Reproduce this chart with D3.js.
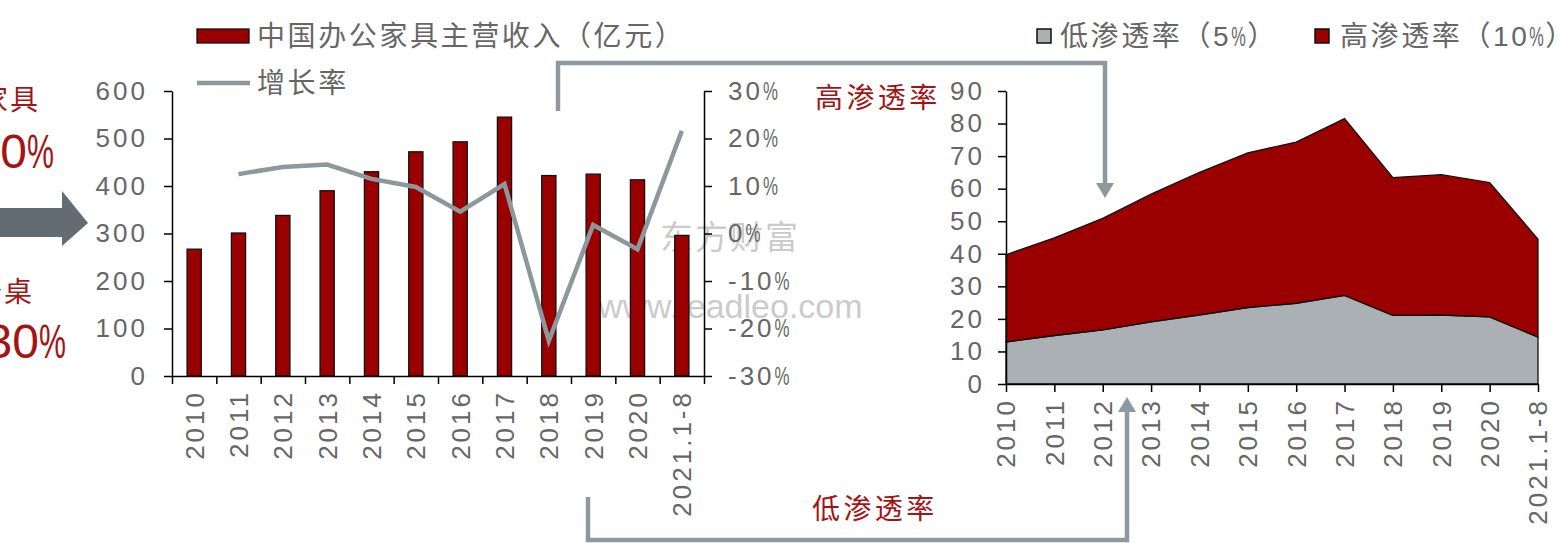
<!DOCTYPE html>
<html>
<head>
<meta charset="utf-8">
<title>办公家具</title>
<script src="https://cdn.jsdelivr.net/npm/d3@7"></script>
<style>
  body { margin: 0; background: #fff; }
  svg { display: block; font-family: "Liberation Sans", "Noto Sans CJK SC", sans-serif; }
  .axis .domain, .axis line { stroke: #000; stroke-width: 1.5; }
  .axis text { fill: #666; font-size: 26px; letter-spacing: 3px; font-family: "Liberation Sans", sans-serif; }
  .lbl { fill: #666; font-size: 28px; letter-spacing: 2.6px; }
</style>
</head>
<body>
<script>
// data
const years = ["2010","2011","2012","2013","2014","2015","2016","2017","2018","2019","2020","2021.1-8"];
const revenue = [267, 301, 338, 390, 430, 472, 493, 545, 422, 425, 413, 296];   // 亿元
const growth = [null, 12.5, 14.0, 14.5, 11.5, 9.8, 4.6, 10.4, -22.6, 1.8, -3.3, 21.6]; // %
const lowPen = [12.9, 14.9, 16.6, 19.1, 21.2, 23.5, 24.8, 27.2, 21.1, 21.2, 20.6, 14.4];
const highPen = [26.8, 30.0, 34.3, 39.2, 43.8, 47.5, 49.5, 54.3, 42.3, 43.1, 41.3, 30.1];
const revTicks = [0, 100, 200, 300, 400, 500, 600];
const rateTicks = [-30, -20, -10, 0, 10, 20, 30];
const penTicks = [0, 10, 20, 30, 40, 50, 60, 70, 80, 90];

const red = "#9b0000", grey = "#aab0b3", lineGrey = "#8d989d", textRed = "#a31515";

const svg = d3.select("body").append("svg")
  .attr("width", 1562)
  .attr("height", 543);

// number followed by a squeezed % sign, like the original
function pctText(sel, num, w) {
  sel.append("tspan").text(num);
  sel.append("tspan").attr("textLength", w).attr("lengthAdjust", "spacingAndGlyphs")
    .style("letter-spacing", "0px").text("%");
}

// ---------- left side notes ----------
svg.append("text").attr("x", 40).attr("y", 110).attr("text-anchor", "end")
  .attr("fill", textRed).style("font-size", "28px").style("letter-spacing", "2px").text("办公家具");
svg.append("text").attr("x", 54).attr("y", 168).attr("text-anchor", "end")
  .attr("fill", textRed).style("font-size", "48px").call(pctText, "70", 27);
svg.append("text").attr("x", 34).attr("y", 302).attr("text-anchor", "end")
  .attr("fill", textRed).style("font-size", "28px").style("letter-spacing", "2px").text("办公桌");
svg.append("text").attr("x", 66).attr("y", 358).attr("text-anchor", "end")
  .attr("fill", textRed).style("font-size", "48px").call(pctText, "30", 27);
svg.append("path")
  .attr("d", "M-5,208 L62,208 L62,191 L88,223 L62,246 L62,237 L-5,237 Z")
  .attr("fill", "#626c72");

// ---------- left chart: bars + growth line ----------
const x = d3.scaleBand().domain(years).range([172, 704]).paddingInner(0.68).paddingOuter(0.34);
const xEdge = d3.scaleLinear().domain([0, years.length]).range([172, 704]);
const yRev = d3.scaleLinear().domain([0, 600]).range([376, 91]);
const yRate = d3.scaleLinear().domain([-30, 30]).range([376, 91]);

// watermark (behind)
svg.append("text").attr("x", 660).attr("y", 249).attr("fill", "#aaa").attr("opacity", 0.6)
  .style("font-size", "33px").style("letter-spacing", "2px").text("东方财富");
svg.append("text").attr("x", 598).attr("y", 318).attr("fill", "#aaa").attr("opacity", 0.6)
  .style("font-size", "34px").text("www.leadleo.com");

svg.append("g").selectAll("rect").data(years).join("rect")
  .attr("x", d => x(d))
  .attr("y", (d, i) => yRev(revenue[i]))
  .attr("width", x.bandwidth())
  .attr("height", (d, i) => yRev(0) - yRev(revenue[i]))
  .attr("fill", red)
  .attr("stroke", "#111")
  .attr("stroke-width", 1.3);

const growthLine = d3.line()
  .defined(d => d.v != null)
  .x(d => x(d.year) + x.bandwidth() / 2)
  .y(d => yRate(d.v));

svg.append("path")
  .datum(years.map((y, i) => ({ year: y, v: growth[i] })))
  .attr("d", growthLine)
  .attr("fill", "none")
  .attr("stroke", lineGrey)
  .attr("stroke-width", 4.5);

svg.append("g").attr("class", "axis").attr("transform", "translate(172,0)")
  .call(d3.axisLeft(yRev).tickValues(revTicks).tickSize(8).tickSizeOuter(0).tickPadding(16));

const rateAxis = svg.append("g").attr("class", "axis").attr("transform", "translate(704,0)")
  .call(d3.axisRight(yRate).tickValues(rateTicks).tickSize(8).tickSizeOuter(0).tickPadding(16)
    .tickFormat(""));
rateAxis.selectAll(".tick text").each(function(d) {
  d3.select(this).call(pctText, d < 0 ? "-" + Math.abs(d) : String(d), 15);
});

svg.append("g").attr("class", "axis").attr("transform", "translate(0,376)")
  .call(d3.axisBottom(xEdge).tickValues(d3.range(years.length + 1)).tickSize(8).tickSizeOuter(0).tickFormat(""));

svg.append("g").attr("class", "axis").selectAll("text").data(years).join("text")
  .attr("transform", d => `translate(${x(d) + x.bandwidth() / 2},390) rotate(-90)`)
  .attr("text-anchor", "end")
  .attr("dy", "0.36em")
  .text(d => d);

// legend left
svg.append("rect").attr("x", 197).attr("y", 29).attr("width", 52).attr("height", 14)
  .attr("fill", red).attr("stroke", "#111").attr("stroke-width", 1.3);
svg.append("text").attr("class", "lbl").attr("x", 257).attr("y", 46).text("中国办公家具主营收入（亿元）");
svg.append("line").attr("x1", 197).attr("x2", 250).attr("y1", 83).attr("y2", 83)
  .attr("stroke", lineGrey).attr("stroke-width", 4.5);
svg.append("text").attr("class", "lbl").attr("x", 257).attr("y", 93).text("增长率");

// ---------- right chart: stacked area ----------
const xP = d3.scalePoint().domain(years).range([1006, 1538]);
const yPen = d3.scaleLinear().domain([0, 90]).range([384, 91]);

const stackData = years.map((y, i) => ({ year: y, low: lowPen[i], high: highPen[i] }));
const series = d3.stack().keys(["low", "high"])(stackData);
const area = d3.area()
  .x(d => xP(d.data.year))
  .y0(d => yPen(d[0]))
  .y1(d => yPen(d[1]));

svg.append("g").selectAll("path").data(series).join("path")
  .attr("d", area)
  .attr("fill", (d, i) => i === 0 ? grey : red)
  .attr("stroke", "#111")
  .attr("stroke-width", 1.3);

svg.append("g").attr("class", "axis").attr("transform", "translate(1006,0)")
  .call(d3.axisLeft(yPen).tickValues(penTicks).tickSize(8).tickSizeOuter(0).tickPadding(13));

svg.append("g").attr("class", "axis").attr("transform", "translate(0,384)")
  .call(d3.axisBottom(xP).tickSize(8).tickSizeOuter(0).tickFormat(""));

svg.append("g").attr("class", "axis").selectAll("text").data(years).join("text")
  .attr("transform", d => `translate(${xP(d)},398) rotate(-90)`)
  .attr("text-anchor", "end")
  .attr("dy", "0.36em")
  .text(d => d);

// legend right
svg.append("rect").attr("x", 1037).attr("y", 29).attr("width", 14).attr("height", 14)
  .attr("fill", grey).attr("stroke", "#111").attr("stroke-width", 1.5);
svg.append("text").attr("class", "lbl").attr("x", 1060).attr("y", 46)
  .call(s => { s.append("tspan").text("低渗透率（5"); s.append("tspan").attr("textLength", 16).attr("lengthAdjust", "spacingAndGlyphs").text("%"); s.append("tspan").text("）"); });
svg.append("rect").attr("x", 1315).attr("y", 29).attr("width", 14).attr("height", 14)
  .attr("fill", red).attr("stroke", "#111").attr("stroke-width", 1.5);
svg.append("text").attr("class", "lbl").attr("x", 1340).attr("y", 46)
  .call(s => { s.append("tspan").text("高渗透率（10"); s.append("tspan").attr("textLength", 16).attr("lengthAdjust", "spacingAndGlyphs").text("%"); s.append("tspan").text("）"); });

// ---------- connectors ----------
svg.append("path").attr("d", "M558,111 L558,63 L1105,63 L1105,185")
  .attr("fill", "none").attr("stroke", "#8e999e").attr("stroke-width", 4.5);
svg.append("path").attr("d", "M1096,183 L1114,183 L1105,198 Z").attr("fill", "#8e999e");
svg.append("text").attr("x", 815).attr("y", 108).attr("fill", textRed)
  .style("font-size", "28px").style("letter-spacing", "3.4px").text("高渗透率");

svg.append("path").attr("d", "M588,497 L588,540 L1127,540 L1127,410")
  .attr("fill", "none").attr("stroke", "#8e999e").attr("stroke-width", 4.5);
svg.append("path").attr("d", "M1118,412 L1136,412 L1127,397 Z").attr("fill", "#8e999e");
svg.append("text").attr("x", 812).attr("y", 519).attr("fill", textRed)
  .style("font-size", "28px").style("letter-spacing", "3.4px").text("低渗透率");
</script>
</body>
</html>
